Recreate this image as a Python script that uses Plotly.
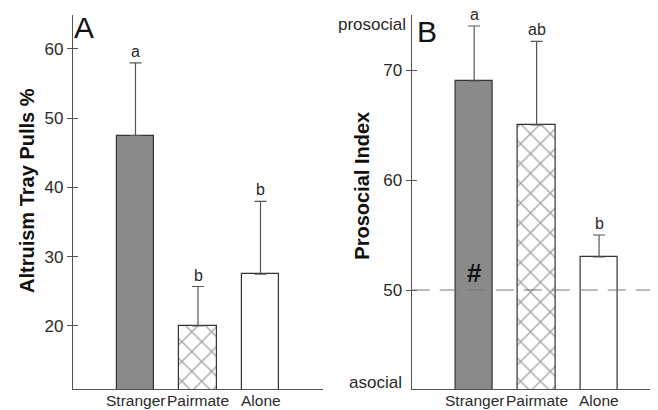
import plotly.graph_objects as go

categories = ["Stranger", "Pairmate", "Alone"]
altruism = [47.5, 20.0, 27.5]
altruism_err = [10.5, 5.7, 10.5]
altruism_letters = ["a", "b", "b"]
prosocial = [69.0, 65.0, 53.0]
prosocial_err = [5.0, 7.6, 2.0]
prosocial_letters = ["a", "ab", "b"]
y_ticks_a = [20, 30, 40, 50, 60]
y_ticks_b = [50, 60, 70]

FONT = "Liberation Sans, Arial, sans-serif"
AX = "#555555"
TXT = "#2a2a2a"

# page body has an 8px default margin: the figure is positioned to compensate
W, H = 650, 410
TOP, BOTTOM = 7, 381  # plot area top / bottom in figure pixels

xs = [0, 1, 2]
fills = ["#8a8a8a", "white", "white"]
patterns = ["", "x", ""]

fig = go.Figure()

def add_bars(vals, errs, xa, ya):
    fig.add_trace(go.Bar(
        x=xs, y=vals, width=0.6, xaxis=xa, yaxis=ya,
        marker=dict(color=fills, line=dict(color="#333333", width=1.2),
                    pattern=dict(shape=patterns, fgcolor="#000000", bgcolor="white",
                                 size=14, solidity=0.18)),
        error_y=dict(type="data", symmetric=False, array=errs, arrayminus=[0, 0, 0],
                     color=AX, thickness=1.2, width=6),
        showlegend=False, hoverinfo="skip"))

add_bars(altruism, altruism_err, "x", "y")
add_bars(prosocial, prosocial_err, "x2", "y2")
# invisible traces for the inner-tick overlay axes
fig.add_trace(go.Scatter(x=[0], y=[30], xaxis="x", yaxis="y3", mode="markers",
                         marker=dict(opacity=0), showlegend=False, hoverinfo="skip"))
fig.add_trace(go.Scatter(x=[0], y=[60], xaxis="x2", yaxis="y4", mode="markers",
                         marker=dict(opacity=0), showlegend=False, hoverinfo="skip"))

ydom = [(H - BOTTOM) / H, (H - TOP) / H]
xdomA = [65 / W, 315 / W]
xdomB = [403.7 / W, 1.0]
yrA = [10.9, 64.9]
yrB = [41.0, 75.0]

xcommon = dict(showline=True, linecolor=AX, linewidth=1.2, ticks="", ticklen=0,
               showgrid=False, zeroline=False, showticklabels=False, automargin=False)
ycommon = dict(showline=True, linecolor=AX, linewidth=1.2, ticks="outside", ticklen=5,
               tickcolor=AX, tickwidth=1.2, showgrid=False, zeroline=False, automargin=False,
               tickfont=dict(family=FONT, size=17, color=TXT))

fig.update_layout(
    width=W, height=H, margin=dict(l=0, r=0, t=0, b=0),
    paper_bgcolor="white", plot_bgcolor="white", bargap=0,
    xaxis=dict(domain=xdomA, range=[-1, 3], anchor="y", **xcommon),
    xaxis2=dict(domain=xdomB, range=[-1, 2.944], anchor="y2", **xcommon),
    yaxis=dict(domain=ydom, range=yrA, anchor="x", tickvals=y_ticks_a, **ycommon),
    yaxis2=dict(domain=ydom, range=yrB, anchor="x2", tickvals=y_ticks_b, **ycommon),
    yaxis3=dict(overlaying="y", anchor="x", range=yrA, tickvals=y_ticks_a, ticks="inside",
                ticklen=5, tickcolor=AX, tickwidth=1.2, showticklabels=False,
                showgrid=False, zeroline=False, showline=False, automargin=False),
    yaxis4=dict(overlaying="y2", anchor="x2", range=yrB, tickvals=y_ticks_b, ticks="inside",
                ticklen=5, tickcolor=AX, tickwidth=1.2, showticklabels=False,
                showgrid=False, zeroline=False, showline=False, automargin=False),
)

ann = []
for i in range(3):
    ann.append(dict(x=xs[i], y=altruism[i] + altruism_err[i], xref="x", yref="y",
                    text=altruism_letters[i], showarrow=False, yanchor="bottom", yshift=1,
                    font=dict(family=FONT, size=16, color=TXT)))
    ann.append(dict(x=xs[i], y=prosocial[i] + prosocial_err[i], xref="x2", yref="y2",
                    text=prosocial_letters[i], showarrow=False, yanchor="bottom", yshift=1,
                    font=dict(family=FONT, size=16, color=TXT)))
    # category labels under each bar
    for xr, yr in (("x", "y domain"), ("x2", "y2 domain")):
        ann.append(dict(x=xs[i], y=0, xref=xr, yref=yr, text=categories[i],
                        showarrow=False, yanchor="top", yshift=-2, borderpad=0,
                        font=dict(family=FONT, size=15.5, color=TXT)))

ann += [
    dict(x=0, y=1, xref="x domain", yref="y domain", text="A", showarrow=False,
         xanchor="left", yanchor="top", xshift=-1, yshift=6,
         font=dict(family=FONT, size=30, color="#111")),
    dict(x=0, y=1, xref="x2 domain", yref="y2 domain", text="B", showarrow=False,
         xanchor="left", yanchor="top", xshift=3, yshift=2,
         font=dict(family=FONT, size=30, color="#111")),
    dict(x=0, y=0.5, xref="x domain", yref="y domain", text="<b>Altruism Tray Pulls %</b>",
         showarrow=False, textangle=-90, xanchor="center", yanchor="middle", xshift=-46,
         yshift=11, font=dict(family=FONT, size=20, color="#111")),
    dict(x=0, y=0.5, xref="x2 domain", yref="y2 domain", text="<b>Prosocial Index</b>",
         showarrow=False, textangle=-90, xanchor="center", yanchor="middle", xshift=-50,
         yshift=16, font=dict(family=FONT, size=20, color="#111")),
    dict(x=0, y=74.1, xref="x2 domain", yref="y2", text="prosocial", showarrow=False,
         xanchor="right", yanchor="middle", xshift=-4,
         font=dict(family=FONT, size=17, color=TXT)),
    dict(x=0, y=41.6, xref="x2 domain", yref="y2", text="asocial", showarrow=False,
         xanchor="right", yanchor="middle", xshift=-8,
         font=dict(family=FONT, size=17, color=TXT)),
    dict(x=xs[0], y=50, xref="x2", yref="y2", text="<b>#</b>", showarrow=False,
         yanchor="bottom", yshift=0, font=dict(family=FONT, size=26, color="#111")),
]
fig.update_layout(annotations=ann)

fig.add_shape(type="line", xref="x2 domain", yref="y2", x0=0, x1=1, y0=50, y1=50,
              line=dict(color="#777777", width=1.1, dash="18px,10px"))

fig.write_html("out.html")
